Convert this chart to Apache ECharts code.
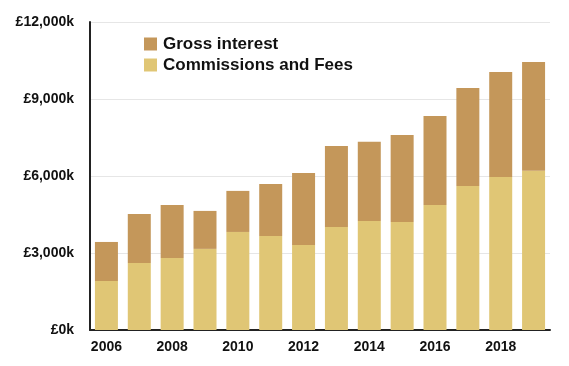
<!DOCTYPE html>
<html><head><meta charset="utf-8">
<script src="https://cdn.jsdelivr.net/npm/echarts@6/dist/echarts.min.js"></script>
<style>html,body{margin:0;padding:0;background:#fff}#c{width:569px;height:366px}</style>
</head><body><div id="c"></div>
<script>
const years = ['2006','2007','2008','2009','2010','2011','2012','2013','2014','2015','2016','2017','2018','2019'];
const commissions = [1910,2610,2810,3160,3820,3660,3310,4010,4250,4210,4870,5610,5960,6200];
const grossInterest = [1520,1910,2060,1480,1600,2030,2810,3160,3080,3390,3470,3820,4090,4240];
const yTicks = [0,3000,6000,9000,12000];

const chart = echarts.init(document.getElementById('c'));
const fmt = v => '£' + v.toLocaleString('en-GB') + 'k';
chart.setOption({
  animation:false,
  textStyle:{fontFamily:'Liberation Sans, Arial, sans-serif'},
  grid:{left:90,right:19,top:22,bottom:36},
  legend:{
    orient:'vertical', left:139, top:30, itemWidth:13, itemHeight:13, itemGap:3, icon:'rect',
    data:['Gross interest','Commissions and Fees'],
    textStyle:{fontSize:17,fontWeight:'bold',color:'#111',fontFamily:'Liberation Sans, Arial, sans-serif',lineHeight:18,padding:[0,0,0,1]}
  },
  xAxis:{
    type:'category', data:years,
    axisLine:{lineStyle:{color:'#222',width:2}},
    axisTick:{show:false},
    axisLabel:{interval:1,fontSize:14,fontWeight:'bold',color:'#111',margin:10}
  },
  yAxis:{
    type:'value', min:yTicks[0], max:yTicks[yTicks.length-1], interval:3000,
    axisLine:{show:true,lineStyle:{color:'#222',width:2}},
    axisTick:{show:false},
    splitLine:{lineStyle:{color:'#e6e6e6',width:1}},
    axisLabel:{formatter:fmt,fontSize:14,fontWeight:'bold',color:'#111',margin:16}
  },
  series:[
    {name:'Commissions and Fees',type:'bar',stack:'t',data:commissions,barWidth:'70%',itemStyle:{color:'#E0C675'}},
    {name:'Gross interest',type:'bar',stack:'t',data:grossInterest,barWidth:'70%',itemStyle:{color:'#C4975A'}}
  ]
});
</script></body></html>
